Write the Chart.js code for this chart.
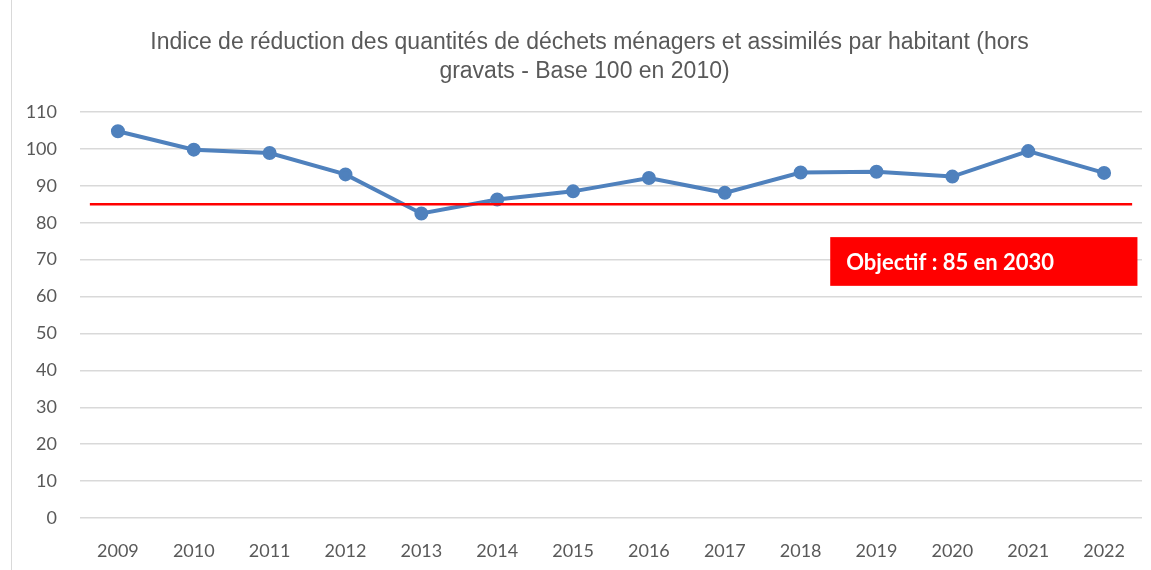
<!DOCTYPE html>
<html>
<head>
<meta charset="utf-8">
<script src="https://cdn.jsdelivr.net/npm/chart.js@4"></script>
<style>
  html, body { margin: 0; padding: 0; background: #fff; }
  #wrap { position: relative; width: 1151px; height: 570px; }
  #wrap:before { content: ''; position: absolute; left: 11px; top: 0; bottom: 0; border-left: 1px solid #d9d9d9; }
</style>
</head>
<body>
<div id="wrap"><canvas id="myCanvas" width="1151" height="570"></canvas></div>
<script>
const CHART = document.getElementById('myCanvas').getContext('2d');

// années et indice (base 100 en 2010)
var years = ['2009', '2010', '2011', '2012', '2013', '2014', '2015', '2016', '2017', '2018', '2019', '2020', '2021', '2022'];
var indice = [104.8, 99.8, 98.9, 93.1, 82.5, 86.3, 88.5, 92.1, 88.1, 93.6, 93.8, 92.5, 99.4, 93.5];
var objectif = 85;
var objectifLabel = 'Objectif : 85 en 2030';
var titleLines = ['Indice de réduction des quantités de déchets ménagers et assimilés par habitant (hors', 'gravats - Base 100 en 2010)'];

var FONT = 'Lato, "Liberation Sans", sans-serif';

// titre sur deux lignes, un peu décalé à droite comme dans Excel
var titlePlugin = {
    id: 'titre',
    afterDraw: function(chart) {
        var ctx = chart.ctx;
        ctx.save();
        ctx.fillStyle = '#595959';
        ctx.font = '23px "Liberation Sans", Arial, sans-serif';
        ctx.textAlign = 'center';
        ctx.textBaseline = 'middle';
        ctx.fillText(titleLines[0], chart.width / 2 + 14, 43);
        ctx.fillText(titleLines[1], chart.width / 2 + 9, 72);
        ctx.restore();
    }
};

// ligne rouge de l'objectif + encadré
var objectifPlugin = {
    id: 'objectif',
    afterDatasetsDraw: function(chart) {
        var ctx = chart.ctx;
        var x = chart.scales.x, y = chart.scales.y;
        var yy = y.getPixelForValue(objectif);
        ctx.save();
        ctx.strokeStyle = '#ff0000';
        ctx.lineWidth = 2.5;
        ctx.beginPath();
        ctx.moveTo(x.getPixelForValue(-0.37), yy);
        ctx.lineTo(x.getPixelForValue(13.37), yy);
        ctx.stroke();

        var bx1 = x.getPixelForValue(9.39), bx2 = x.getPixelForValue(13.44);
        var by1 = y.getPixelForValue(76.1), by2 = y.getPixelForValue(62.9);
        ctx.fillStyle = '#ff0000';
        ctx.fillRect(bx1, by1, bx2 - bx1, by2 - by1);
        ctx.fillStyle = '#ffffff';
        ctx.font = 'bold 22px ' + FONT;
        ctx.textBaseline = 'middle';
        ctx.fillText(objectifLabel, bx1 + 16, (by1 + by2) / 2 + 1);
        ctx.restore();
    }
};

var configure = {
    type: 'line',
    data: {
        labels: years,
        datasets: [{
            label: 'Indice',
            data: indice,
            borderColor: '#4f81bd',
            backgroundColor: '#4f81bd',
            borderWidth: 4,
            pointRadius: 5,
            pointHoverRadius: 5,
            tension: 0
        }]
    },
    options: {
        responsive: false,
        animation: false,
        layout: {
            padding: { left: 0, right: 8, top: 112, bottom: 0 }
        },
        plugins: {
            legend: { display: false },
            tooltip: { enabled: false },
            title: { display: false }
        },
        scales: {
            x: {
                offset: true,
                grid: { display: false, drawTicks: false },
                border: { display: false },
                ticks: { color: '#595959', font: { family: FONT, size: 18 }, padding: 22 },
                afterFit: function(scale) { scale.height = 52; }
            },
            y: {
                min: 0,
                max: 110,
                ticks: { stepSize: 10, color: '#595959', font: { family: FONT, size: 18 }, padding: 23 },
                grid: { color: '#d9d9d9', lineWidth: 1.5, drawTicks: false },
                border: { display: false },
                afterFit: function(scale) { scale.width = 80; }
            }
        }
    },
    plugins: [objectifPlugin, titlePlugin]
};

window.lineChart = new Chart(CHART, configure);
</script>
</body>
</html>
